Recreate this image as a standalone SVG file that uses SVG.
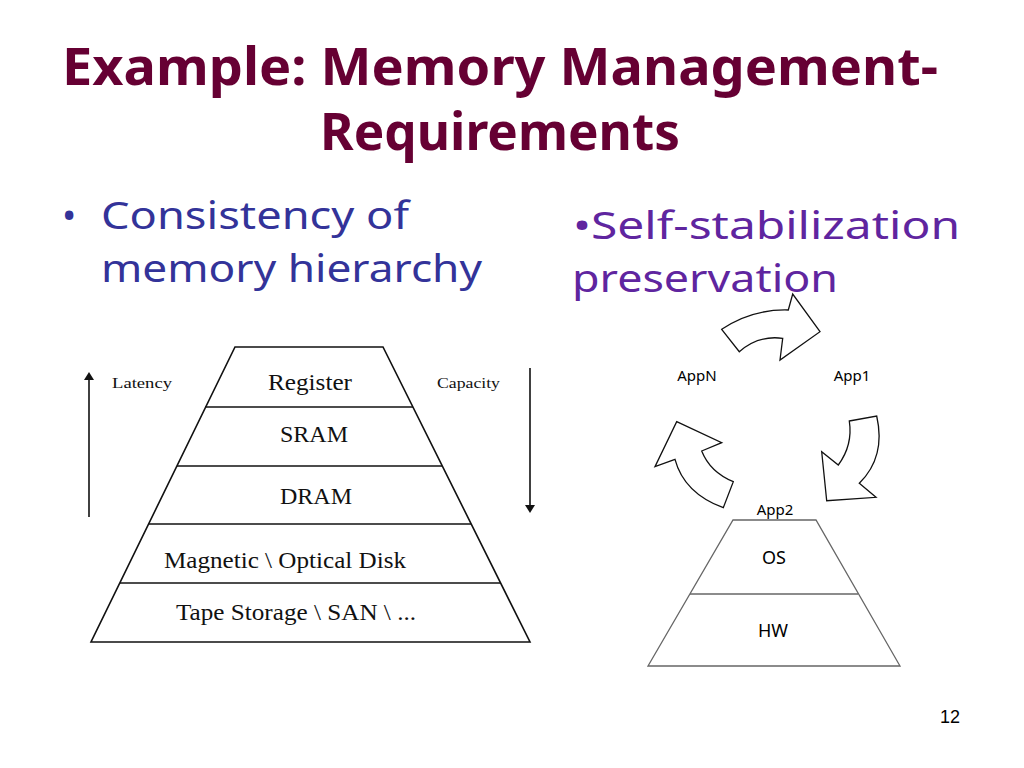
<svg xmlns="http://www.w3.org/2000/svg" width="1024" height="768" viewBox="0 0 1024 768">
<defs>
<style>
.title{font-family:"Comic Sans MS","Noto Sans","Liberation Sans",sans-serif;font-weight:bold;font-size:52px;fill:#660033;text-anchor:middle}
.b1{font-family:"Comic Sans MS","Noto Sans","Liberation Sans",sans-serif;font-size:38px;fill:#333399}
.b2{font-family:"Comic Sans MS","Noto Sans","Liberation Sans",sans-serif;font-size:38px;fill:#5F259F}
.pyr{font-family:"Liberation Serif",serif;font-size:24px;fill:#111;text-anchor:middle}
.small{font-family:"Liberation Serif",serif;font-size:15px;fill:#111}
.app{font-family:"Comic Sans MS","Noto Sans","Liberation Sans",sans-serif;font-size:15px;fill:#000;text-anchor:middle}
.layer{font-family:"Comic Sans MS","Noto Sans","Liberation Sans",sans-serif;font-size:18px;fill:#000;text-anchor:middle}
.ln{stroke:#111;stroke-width:1.6;fill:none}
.ln2{stroke:#666;stroke-width:1.3;fill:none}
.blk{fill:#fff;stroke:#111;stroke-width:1.3;stroke-linejoin:miter}
</style>
<marker id="ah" markerWidth="8" markerHeight="10" refX="4" refY="5" orient="auto-start-reverse" markerUnits="userSpaceOnUse">
<path d="M0,0 L8,5 L0,10 Z" fill="#111"/>
</marker>
</defs>
<rect width="1024" height="768" fill="#fff"/>

<g id="title">
<text class="title" x="500" y="85" textLength="876" lengthAdjust="spacingAndGlyphs">Example: Memory Management-</text>
<text class="title" x="500" y="150" textLength="360" lengthAdjust="spacingAndGlyphs">Requirements</text>
</g>

<g id="bullet1">
<text class="b1" x="62" y="229">•</text>
<text class="b1" x="101" y="229" textLength="308" lengthAdjust="spacingAndGlyphs">Consistency of</text>
<text class="b1" x="101" y="282" textLength="381" lengthAdjust="spacingAndGlyphs">memory hierarchy</text>
</g>

<g id="bullet2">
<text class="b2" x="573" y="239" textLength="387" lengthAdjust="spacingAndGlyphs">•Self-stabilization</text>
<text class="b2" x="572" y="292" textLength="266" lengthAdjust="spacingAndGlyphs">preservation</text>
</g>

<g id="memory-pyramid">
<path class="ln" d="M235,347 L383,347 L530,642 L91,642 Z"/>
<line class="ln" x1="205" y1="407" x2="413" y2="407"/>
<line class="ln" x1="177" y1="466" x2="442" y2="466"/>
<line class="ln" x1="148" y1="524" x2="471" y2="524"/>
<line class="ln" x1="120" y1="583" x2="501" y2="583"/>
<text class="pyr" x="310" y="390" textLength="84" lengthAdjust="spacingAndGlyphs">Register</text>
<text class="pyr" x="314" y="442">SRAM</text>
<text class="pyr" x="316" y="504">DRAM</text>
<text class="pyr" x="285" y="568" textLength="242" lengthAdjust="spacingAndGlyphs">Magnetic \ Optical Disk</text>
<text class="pyr" x="296" y="620" textLength="240" lengthAdjust="spacingAndGlyphs">Tape Storage \ SAN \ ...</text>
</g>

<g id="latency">
<line class="ln" x1="89" y1="517" x2="89" y2="376" marker-end="url(#ah)"/>
<text class="small" x="112" y="388" textLength="60" lengthAdjust="spacingAndGlyphs">Latency</text>
</g>
<g id="capacity">
<line class="ln" x1="530" y1="368" x2="530" y2="509" marker-end="url(#ah)"/>
<text class="small" x="437" y="388" textLength="63" lengthAdjust="spacingAndGlyphs">Capacity</text>
</g>

<g id="os-stack">
<path class="ln2" d="M733,520 L816,520 L900,666 L648,666 Z"/>
<line class="ln2" x1="690" y1="594" x2="858" y2="594"/>
<text class="layer" x="774" y="564">OS</text>
<text class="layer" x="773" y="637">HW</text>
</g>

<g id="apps">
<text class="app" x="697" y="381">AppN</text>
<text class="app" x="852" y="381">App1</text>
<text class="app" x="775" y="515">App2</text>
</g>

<g id="cycle-arrows">
<path class="blk" d="M721.7,329.3 Q752,309 788.3,310 L792.7,294 L820,331.7 L780,360 L782.7,338.3 Q758,335 739.3,351.7 Z"/>
<path class="blk" d="M849.3,421 L876.7,416 Q886,457 859.3,483.3 L876,497.3 L826.7,500.7 L821.7,451.7 L838.3,465 Q853,445 849.3,421 Z"/>
<path class="blk" d="M676.7,421.7 L721.7,442.7 L701.7,451 Q710,472 733.3,481.7 L723.3,507.7 Q684,493 675,459.3 L655,466.7 Z"/>
</g>

<text x="950" y="723" font-family="Liberation Sans, sans-serif" font-size="18" fill="#000" text-anchor="middle">12</text>
</svg>
